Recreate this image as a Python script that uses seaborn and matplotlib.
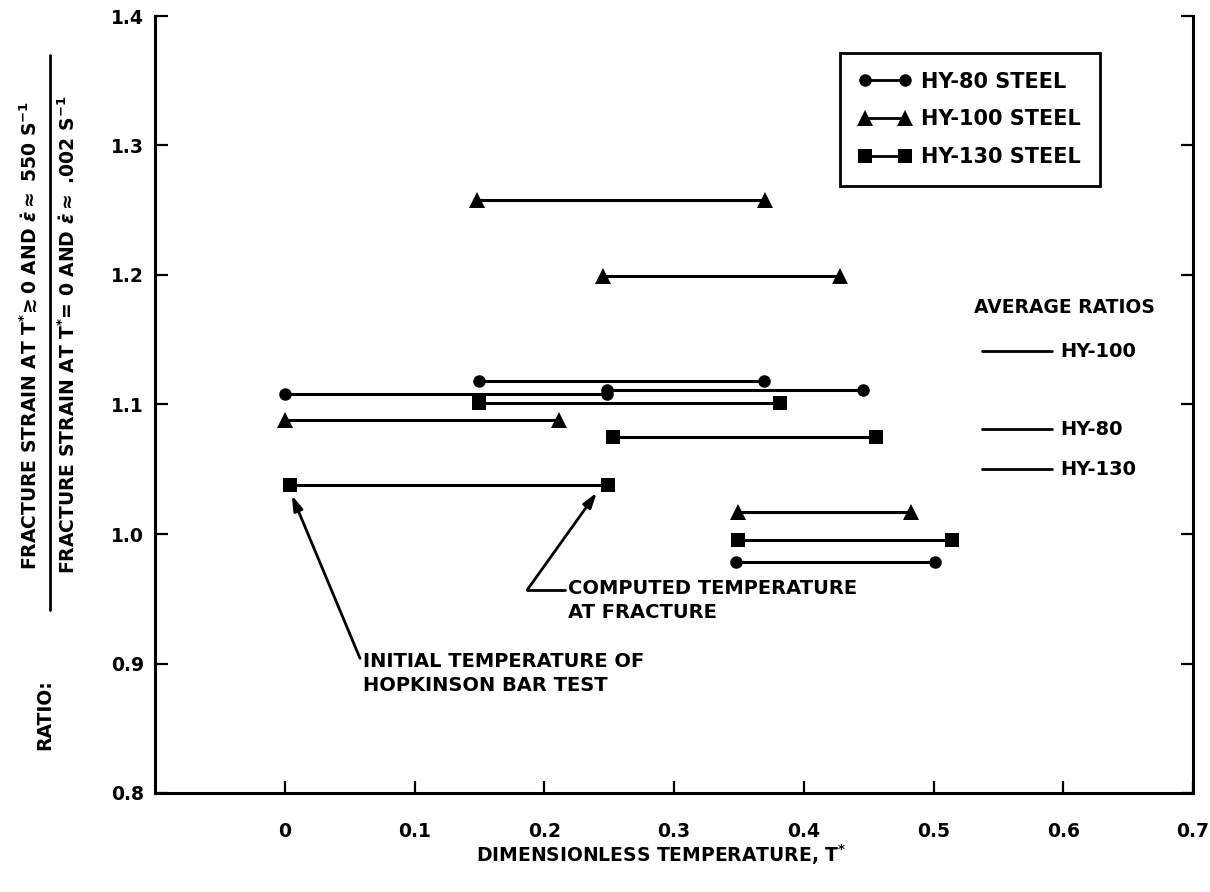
import matplotlib
matplotlib.use("Agg")
import matplotlib.pyplot as plt
from matplotlib.lines import Line2D
import seaborn as sns
import pandas as pd

sns.set_style("ticks")
plt.rcParams["font.family"] = ["DejaVu Sans"]
plt.rcParams["font.weight"] = "bold"
plt.rcParams["text.color"] = "black"
plt.rcParams["axes.labelcolor"] = "black"
plt.rcParams["xtick.color"] = "black"
plt.rcParams["ytick.color"] = "black"
plt.rcParams["mathtext.fontset"] = "custom"
plt.rcParams["mathtext.rm"] = "DejaVu Sans:bold"
plt.rcParams["mathtext.it"] = "DejaVu Sans:bold:italic"
plt.rcParams["mathtext.bf"] = "DejaVu Sans:bold"

# Each test: initial temperature -> computed temperature at fracture, at one ratio
hy80_start = [0.000, 0.248, 0.150, 0.348]
hy80_end = [0.248, 0.446, 0.369, 0.501]
hy80_ratio = [1.108, 1.111, 1.118, 0.978]

hy100_start = [0.148, 0.245, 0.000, 0.349]
hy100_end = [0.370, 0.428, 0.211, 0.483]
hy100_ratio = [1.258, 1.199, 1.088, 1.017]

hy130_start = [0.004, 0.150, 0.253, 0.349]
hy130_end = [0.249, 0.382, 0.456, 0.514]
hy130_ratio = [1.038, 1.101, 1.075, 0.995]

steel_names = ["HY-80 STEEL", "HY-100 STEEL", "HY-130 STEEL"]
steel_markers = ["o", "^", "s"]
marker_sizes = [9, 11, 10]

avg_names = ["HY-100", "HY-80", "HY-130"]
avg_ratios = [1.141, 1.081, 1.050]

x_ticks = [0, 0.1, 0.2, 0.3, 0.4, 0.5, 0.6, 0.7]
x_tick_labels = ["0", "0.1", "0.2", "0.3", "0.4", "0.5", "0.6", "0.7"]
y_ticks = [0.8, 0.9, 1.0, 1.1, 1.2, 1.3, 1.4]
y_tick_labels = ["0.8", "0.9", "1.0", "1.1", "1.2", "1.3", "1.4"]

rows = []
for name, starts, ends, ratios in zip(
    steel_names,
    [hy80_start, hy100_start, hy130_start],
    [hy80_end, hy100_end, hy130_end],
    [hy80_ratio, hy100_ratio, hy130_ratio],
):
    for i, (s, e, r) in enumerate(zip(starts, ends, ratios)):
        rows.append({"steel": name, "seg": f"{name}-{i}", "T": s, "ratio": r})
        rows.append({"steel": name, "seg": f"{name}-{i}", "T": e, "ratio": r})
df = pd.DataFrame(rows)

fig = plt.figure(figsize=(12.10, 8.92), dpi=100)
ax = fig.add_axes([155 / 1210, 1 - 793 / 892, 1038 / 1210, 777 / 892])

for name, mk, ms in zip(steel_names, steel_markers, marker_sizes):
    sub = df[df["steel"] == name]
    for seg, g in sub.groupby("seg", sort=False):
        sns.lineplot(data=g, x="T", y="ratio", ax=ax, color="black", lw=2.2,
                     marker=mk, markersize=ms, markeredgewidth=0,
                     estimator=None, sort=False, legend=False)

ax.set_xlim(-0.1, 0.7)
ax.set_ylim(0.8, 1.4)
ax.set_xticks(x_ticks)
ax.set_xticklabels(x_tick_labels)
ax.set_yticks(y_ticks)
ax.set_yticklabels(y_tick_labels)
ax.set_xlabel("")
ax.set_ylabel("")
ax.spines["top"].set_visible(False)
for side in ["left", "right", "bottom"]:
    ax.spines[side].set_linewidth(2.2)
    ax.spines[side].set_color("black")
ax.tick_params(axis="x", direction="in", length=9, width=1.6, pad=21,
               labelsize=13.5, top=False)
ax.tick_params(axis="y", direction="in", length=9, width=1.6, pad=8,
               labelsize=13.5, right=True, labelright=False)
for lab in ax.get_xticklabels() + ax.get_yticklabels():
    lab.set_fontweight("bold")

# Legend of the three steels
handles = [Line2D([0], [0], color="black", lw=2.0, marker=mk, markersize=ms,
                  markeredgewidth=0)
           for mk, ms in zip(steel_markers, marker_sizes)]
leg = ax.legend(handles, steel_names, loc="upper left",
                bbox_to_anchor=((840 - 155) / 1038, (793 - 53) / 777),
                borderaxespad=0, numpoints=2, handlelength=2.5,
                handletextpad=0.5, labelspacing=0.85, borderpad=0.9,
                fancybox=False, framealpha=1, edgecolor="black",
                prop={"weight": "bold", "size": 15})
leg.get_frame().set_linewidth(2.0)

# Average ratios key
ax.text(0.601, 1.175, "AVERAGE RATIOS", ha="center", va="center",
        fontsize=13.5, fontweight="bold")
for name, r in zip(avg_names, avg_ratios):
    ax.plot([0.537, 0.591], [r, r], color="black", lw=2.0)
    ax.text(0.598, r, name, ha="left", va="center", fontsize=14,
            fontweight="bold")

# Annotations
arrow = dict(arrowstyle="-|>,head_length=0.9,head_width=0.28", color="black",
             lw=2.0, shrinkA=0, shrinkB=0)
ax.annotate("", xy=(0.0054, 1.030), xytext=(0.058, 0.904), arrowprops=arrow)
ax.text(0.060, 0.909, "INITIAL TEMPERATURE OF\nHOPKINSON BAR TEST",
        ha="left", va="top", fontsize=14, fontweight="bold", linespacing=1.35)
ax.annotate("", xy=(0.2405, 1.032), xytext=(0.187, 0.957), arrowprops=arrow)
ax.plot([0.187, 0.216], [0.957, 0.957], color="black", lw=2.0)
ax.text(0.218, 0.965, "COMPUTED TEMPERATURE\nAT FRACTURE",
        ha="left", va="top", fontsize=14, fontweight="bold", linespacing=1.3)

# Axis titles
fig.text((285 + 1297 * 0.29) / 1210, 1 - 855 / 892,
         "DIMENSIONLESS TEMPERATURE, T$^{*}$", ha="center", va="center",
         fontsize=13.5, fontweight="bold")

num = r"FRACTURE STRAIN AT T$^{*}\!\gtrsim$0 AND $\dot{\varepsilon}\approx$ 550 S$^{-1}$"
den = r"FRACTURE STRAIN AT T$^{*}$= 0 AND $\dot{\varepsilon}\approx$ .002 S$^{-1}$"
yc = 1 - 335 / 892
fig.text(30 / 1210, yc, num, rotation=90, ha="center", va="center",
         fontsize=13.5, fontweight="bold")
fig.text(68 / 1210, yc, den, rotation=90, ha="center", va="center",
         fontsize=13.5, fontweight="bold")
fig.add_artist(Line2D([50 / 1210, 50 / 1210], [1 - 610 / 892, 1 - 55 / 892],
                      color="black", lw=2.0, transform=fig.transFigure))
fig.text(45 / 1210, 1 - 715 / 892, "RATIO:", rotation=90, ha="center",
         va="center", fontsize=13.5, fontweight="bold")

fig.savefig("out.png", dpi=100)
